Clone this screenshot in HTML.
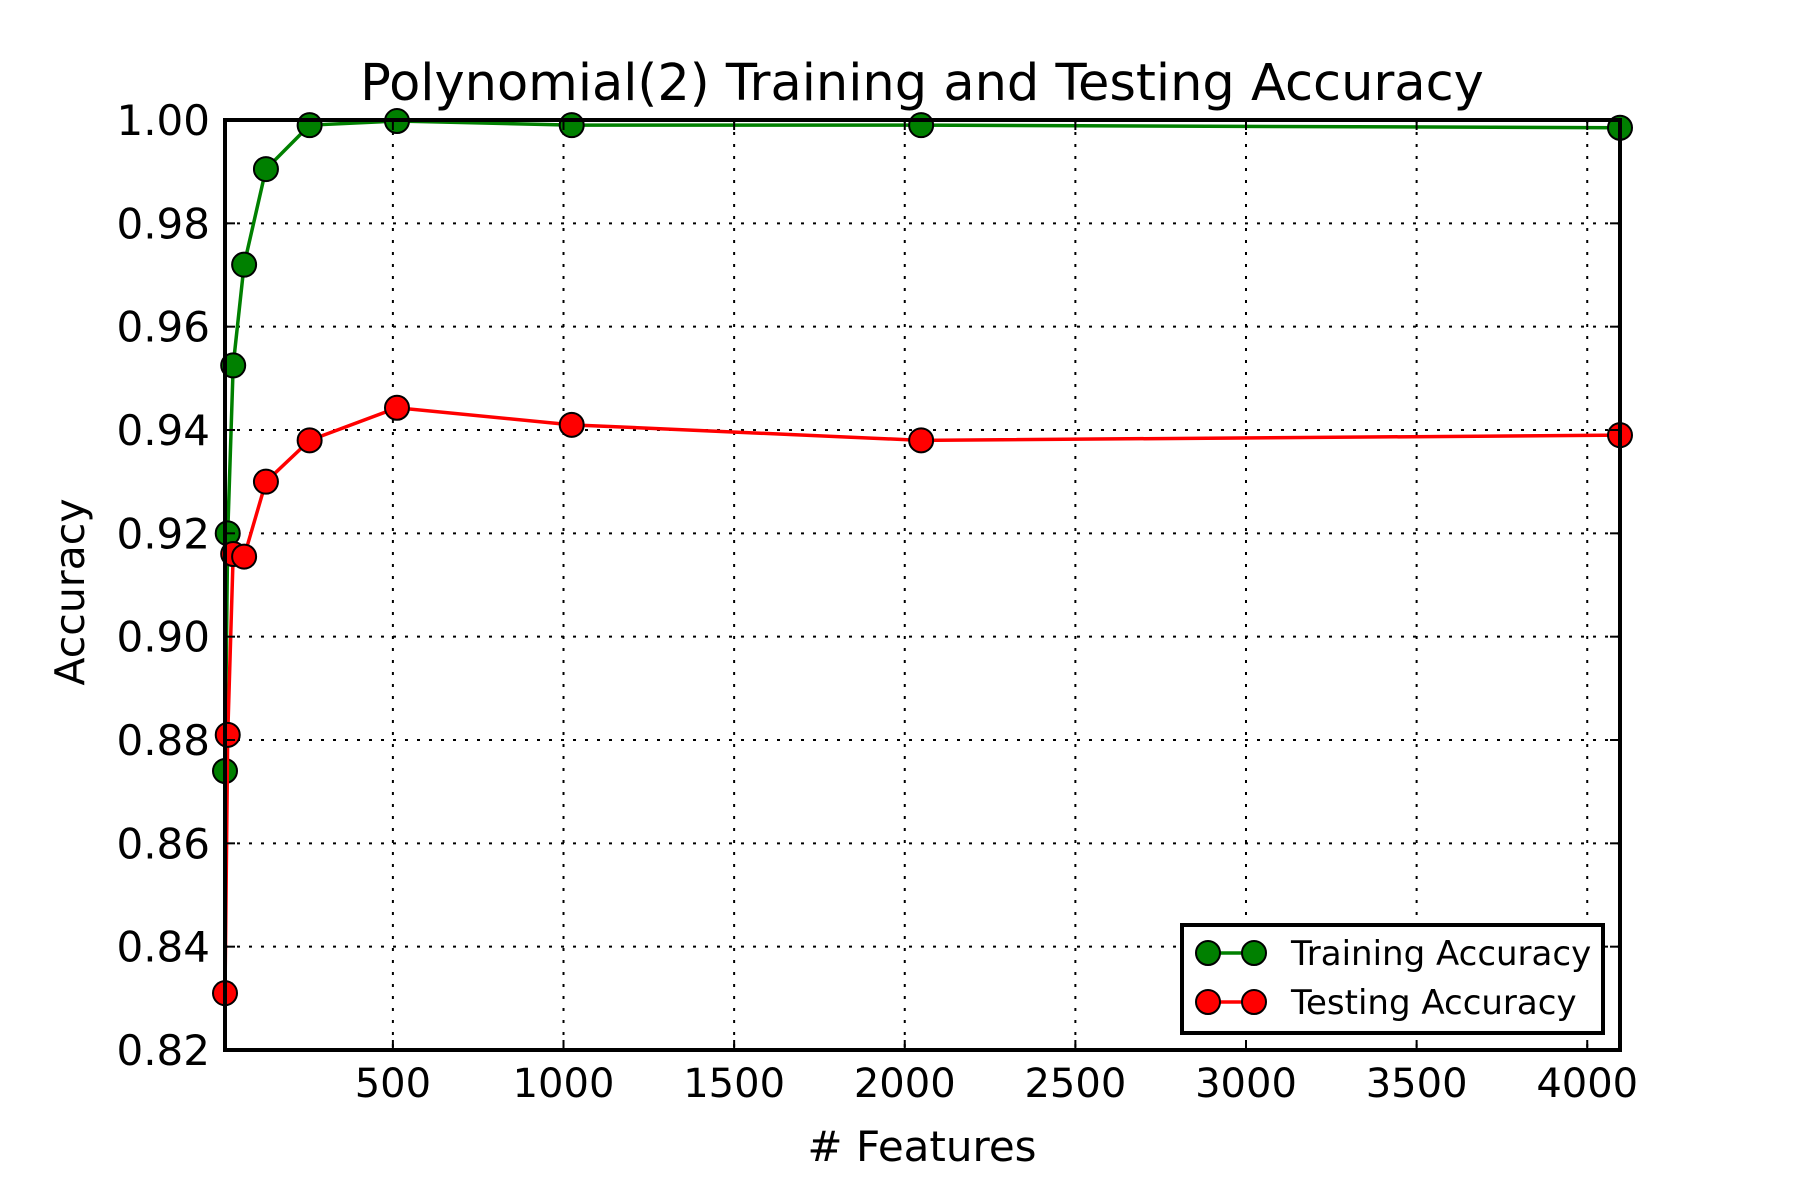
<!DOCTYPE html>
<html><head><meta charset="utf-8"><style>
html,body{margin:0;padding:0;background:#fff;}
svg{display:block;font-family:"DejaVu Sans","Liberation Sans",sans-serif;}
</style></head><body>
<svg id="chart" width="1800" height="1200" viewBox="0 0 1800 1200" xmlns="http://www.w3.org/2000/svg">
<rect width="1800" height="1200" fill="#fff"/>
<text x="922" y="100" font-size="51" text-anchor="middle">Polynomial(2) Training and Testing Accuracy</text>
<text x="922" y="1161" font-size="42" text-anchor="middle"># Features</text>
<text x="0" y="0" font-size="41" text-anchor="middle" transform="translate(84,592) rotate(-90)">Accuracy</text>
<g id="grid"></g><g id="series"></g><g id="axes"></g><g id="legend"></g>
</svg>
<script>
const features = [8,16,32,64,128,256,512,1024,2048,4096];
const trainAcc = [0.874,0.920,0.9525,0.972,0.9905,0.999,0.9998,0.999,0.999,0.9985];
const testAcc = [0.831,0.881,0.916,0.9155,0.930,0.938,0.9443,0.941,0.938,0.939];
const xTicks = [500,1000,1500,2000,2500,3000,3500,4000];
const yTicks = [0.82,0.84,0.86,0.88,0.90,0.92,0.94,0.96,0.98,1.00];
const L=225,R=1620,T=120,B=1050, XMIN=8, XMAX=4096, YMIN=0.82, YMAX=1.0;
const NS="http://www.w3.org/2000/svg";
const xs=v=>L+(v-XMIN)/(XMAX-XMIN)*(R-L);
const ys=v=>B-(v-YMIN)/(YMAX-YMIN)*(B-T);
function mk(tag,attrs,parent){const e=document.createElementNS(NS,tag);for(const k in attrs)e.setAttribute(k,attrs[k]);parent.appendChild(e);return e;}
const grid=document.getElementById('grid'),axes=document.getElementById('axes'),ser=document.getElementById('series'),leg=document.getElementById('legend');
xTicks.forEach(t=>{const x=xs(t);
 const g=mk('line',{x1:x,x2:x,y1:T,y2:B,stroke:'#000','stroke-width':2,'stroke-dasharray':'3,9'},grid);
 
 
 mk('line',{x1:x,x2:x,y1:B,y2:B-10,stroke:'#000','stroke-width':2},axes);
 mk('line',{x1:x,x2:x,y1:T,y2:T+10,stroke:'#000','stroke-width':2},axes);
 const lb=mk('text',{x:x,y:1097,'font-size':40,'text-anchor':'middle'},axes);lb.textContent=t;
 
 
});
yTicks.forEach(t=>{const y=ys(t);
 const g=mk('line',{x1:L,x2:R,y1:y,y2:y,stroke:'#000','stroke-width':2,'stroke-dasharray':'3,9'},grid);
 
 
 mk('line',{x1:L,x2:L+10,y1:y,y2:y,stroke:'#000','stroke-width':2},axes);
 mk('line',{x1:R,x2:R-10,y1:y,y2:y,stroke:'#000','stroke-width':2},axes);
 const lb=mk('text',{x:210,y:y+15,'font-size':42,'text-anchor':'end'},axes);lb.textContent=t.toFixed(2);
 
 
});
const frame=mk('rect',{x:L,y:T,width:R-L,height:B-T,fill:'none',stroke:'#000','stroke-width':4},axes);


function series(vals,color,name){
 const pl=mk('polyline',{points:features.map((f,i)=>xs(f)+','+ys(vals[i])).join(' '),fill:'none',stroke:color,'stroke-width':3.5},ser);
 
 
 features.forEach((f,i)=>{const c=mk('circle',{cx:xs(f),cy:ys(vals[i]),r:12,fill:color,stroke:'#000','stroke-width':2},ser);
  
  });
}
series(trainAcc,'#008000','training');
series(testAcc,'#ff0000','testing');
const box=mk('rect',{x:1182,y:925,width:421,height:108,fill:'#fff',stroke:'#000','stroke-width':4},leg);


[['Training Accuracy','#008000',953],['Testing Accuracy','#ff0000',1002]].forEach(([lab,col,y],i)=>{
 mk('line',{x1:1208,x2:1254,y1:y,y2:y,stroke:col,'stroke-width':3.5},leg);
 mk('circle',{cx:1208,cy:y,r:12,fill:col,stroke:'#000','stroke-width':2},leg);
 mk('circle',{cx:1254,cy:y,r:12,fill:col,stroke:'#000','stroke-width':2},leg);
 const t=mk('text',{x:1291,y:y+12,'font-size':34},leg);t.textContent=lab;
 
 
});
</script>
</body></html>
